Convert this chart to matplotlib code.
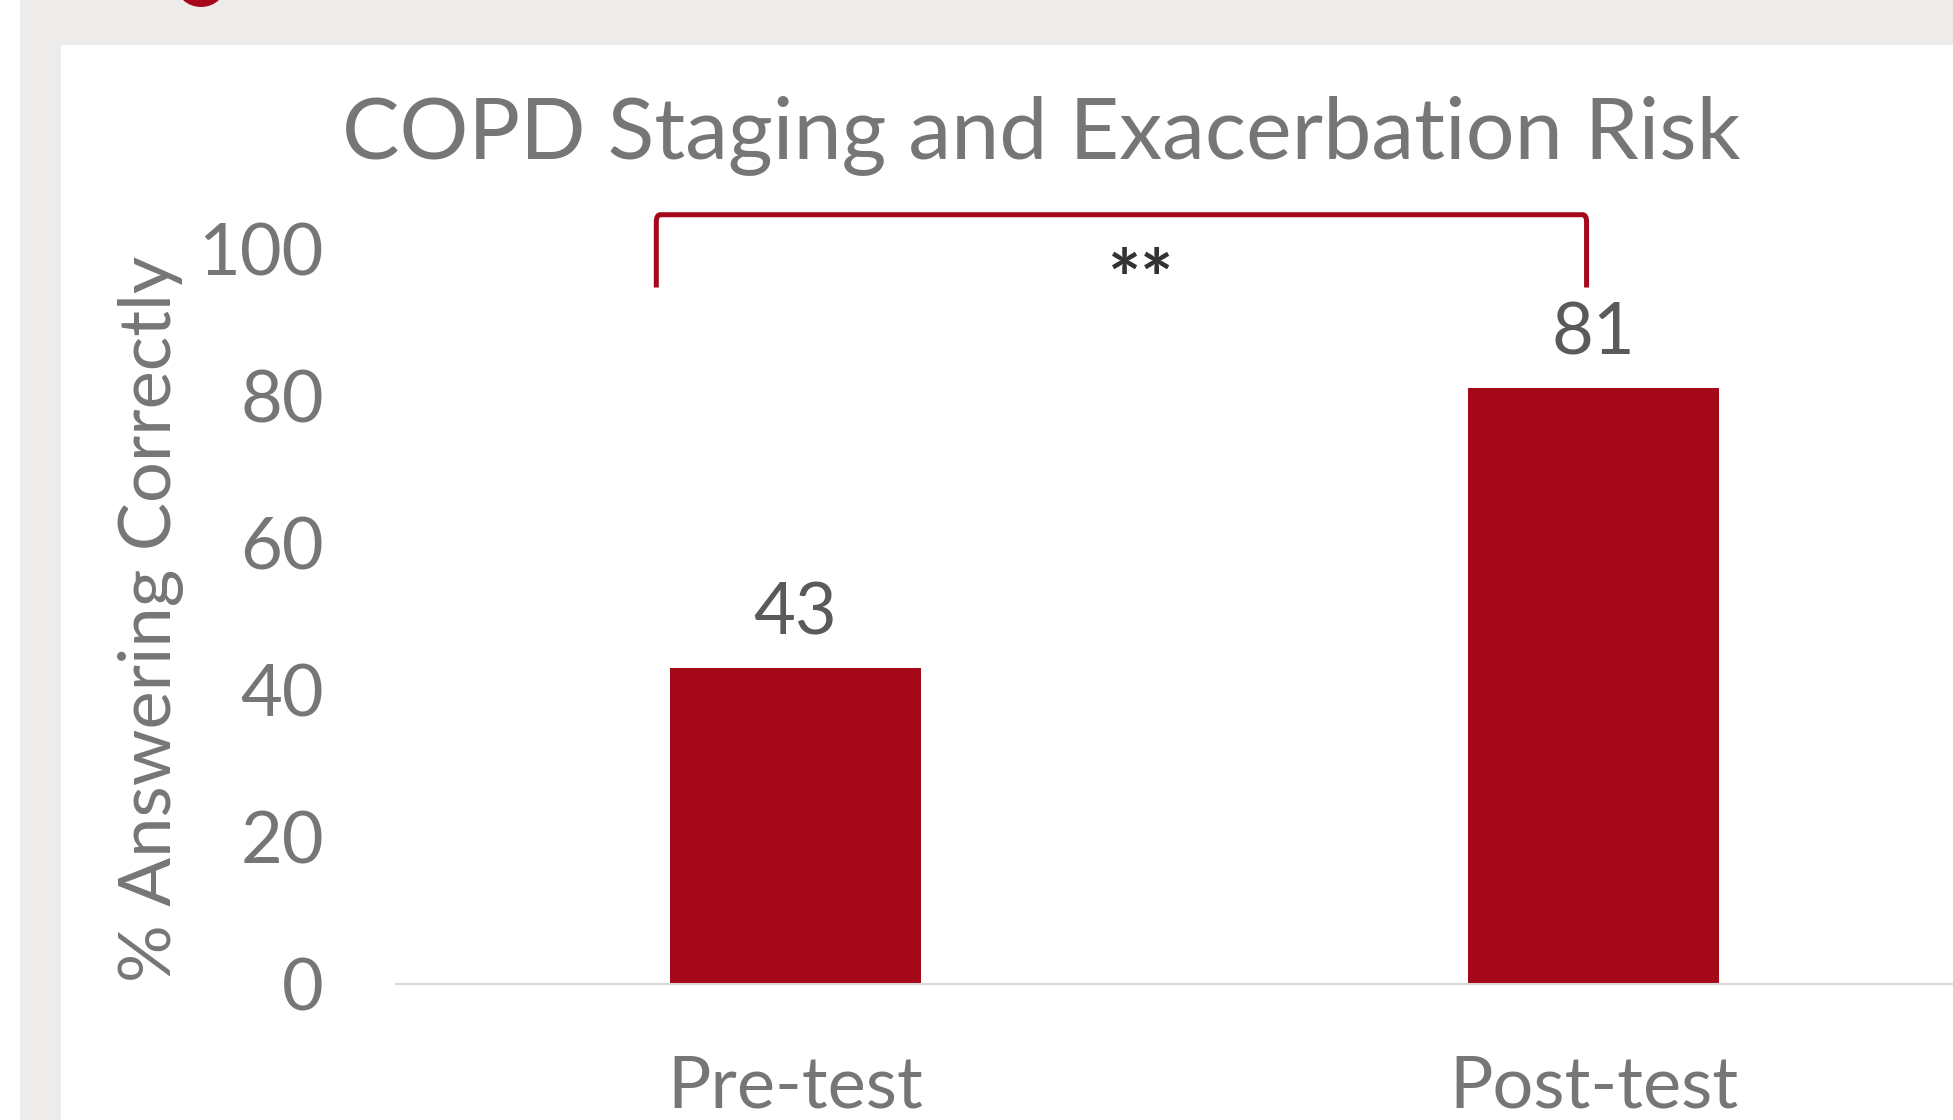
import matplotlib
matplotlib.use("Agg")
import matplotlib.pyplot as plt
from matplotlib.patches import Rectangle, Ellipse, PathPatch
from matplotlib.path import Path

# data
categories = ["Pre-test", "Post-test"]
values = [43, 81]
yticks = [0, 20, 40, 60, 80, 100]
title = "COPD Staging and Exacerbation Risk"
ylabel = "% Answering Correctly"
sig_label = "**"
bracket_x = [-0.174, 0.991]
bracket_y = [94.7, 104.6]

RED = "#A50818"
GRAY_TXT = "#767676"
LABEL_TXT = "#5A5A5A"
BG = "#EDECEA"

plt.rcParams["font.family"] = ["Lato", "DejaVu Sans"]

W, H = 1953, 1120
fig = plt.figure(figsize=(W / 100, H / 100), dpi=100, facecolor="white")

# screenshot frame: gray band on top and left
fig.patches.append(Rectangle((20 / W, 0), 41 / W, 1, transform=fig.transFigure,
                             facecolor=BG, edgecolor="none", zorder=0))
fig.patches.append(Rectangle((20 / W, 1 - 45 / H), 1, 45 / H, transform=fig.transFigure,
                             facecolor=BG, edgecolor="none", zorder=0))
# bit of logo peeking in at the top
fig.patches.append(Ellipse((201 / W, 1 + 16 / H), 50 / W, 46 / H, transform=fig.transFigure,
                           facecolor=RED, edgecolor="none", zorder=1))

ax = fig.add_axes([396 / W, (H - 984) / H, 1597 / W, (984 - 175) / H])
ax.set_facecolor("none")

x = list(range(len(categories)))
bars = ax.bar(x, values, width=0.314, color=RED, zorder=2)
ax.set_xlim(-0.5, 1.5)
ax.set_ylim(0, 110)

for b, v in zip(bars, values):
    ax.annotate(str(v), (b.get_x() + b.get_width() / 2, v), xytext=(0, 24),
                textcoords="offset points", ha="center", va="baseline",
                fontsize=52, color=LABEL_TXT)

ax.set_yticks(yticks)
ax.set_yticklabels([str(t) for t in yticks])
ax.set_xticks(x)
ax.set_xticklabels(categories)
ax.tick_params(axis="y", length=0, pad=52, labelsize=52, labelcolor=GRAY_TXT)
ax.tick_params(axis="x", length=0, pad=51, labelsize=52, labelcolor=GRAY_TXT)

for s in ["top", "right", "left"]:
    ax.spines[s].set_visible(False)
ax.spines["bottom"].set_color("#D9D9D9")
ax.spines["bottom"].set_linewidth(1.5)

ax.set_ylabel(ylabel, fontsize=52, color=GRAY_TXT)
ax.yaxis.set_label_coords(-(396 - 184) / 1597, (984 - 619) / (984 - 175))

# significance bracket with rounded corners
x0, x1 = bracket_x
yb, yt = bracket_y
dx, dy = 0.005, 1.0
verts = [(x0, yb), (x0, yt - dy), (x0, yt), (x0 + dx, yt), (x1 - dx, yt),
         (x1, yt), (x1, yt - dy), (x1, yb)]
codes = [Path.MOVETO, Path.LINETO, Path.CURVE3, Path.CURVE3, Path.LINETO,
         Path.CURVE3, Path.CURVE3, Path.LINETO]
ax.add_patch(PathPatch(Path(verts, codes), facecolor="none", edgecolor=RED,
                       linewidth=3.6, clip_on=False, zorder=3))
ax.text(0.432, 95.0, sig_label, ha="center", va="center", fontsize=56,
        fontweight="bold", color="#333333")

fig.text(1041 / W, (H - 158) / H, title, ha="center", va="baseline",
         fontsize=62, color=GRAY_TXT)

fig.savefig("out.png", dpi=100, facecolor="white")
